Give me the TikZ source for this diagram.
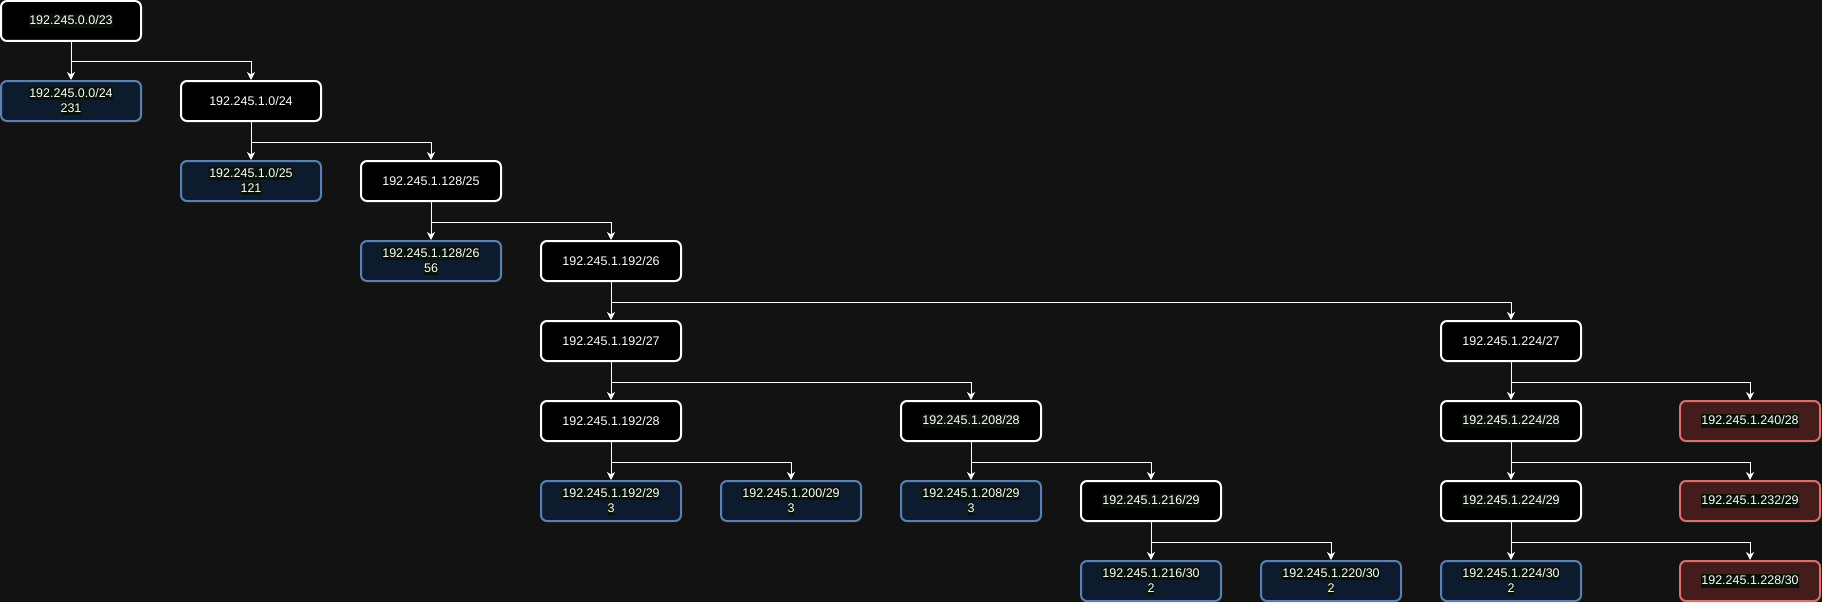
\documentclass[tikz,border=0pt]{standalone}
\usepackage{fontspec}
\setmainfont{Liberation Sans}
\usetikzlibrary{arrows.meta}
\definecolor{bgc}{HTML}{121212}
\definecolor{bluefill}{HTML}{0D1B2E}
\definecolor{blueline}{HTML}{5B80B4}
\definecolor{redfill}{HTML}{451C1C}
\definecolor{redline}{HTML}{D9706A}
\definecolor{txtbg}{HTML}{081208}
\newcommand{\hlt}[1]{{\setlength{\fboxsep}{0pt}\colorbox{txtbg}{\rule[-3.2pt]{0pt}{13.4pt}#1}}}
\begin{document}
\begin{tikzpicture}[x=1pt,y=-1pt,
  box/.style={draw=white,fill=black,line width=2pt,rounded corners=6pt,
    minimum width=140pt,minimum height=40pt,inner sep=0pt,text=white,
    align=center,font=\fontsize{12.5}{15}\selectfont},
  freebox/.style={box,draw=blueline,fill=bluefill},
  usedbox/.style={box,draw=redline,fill=redfill},
  link/.style={draw=white,line width=1pt,-{Stealth[length=8pt,width=8pt,inset=2.5pt]}}]
\fill[bgc] (0,0) rectangle (1822,602);
\useasboundingbox (0,0) rectangle (1822,602);
% nodes
\node[box] (n0) at (71,21) {\hlt{192.245.0.0/23}};
\node[freebox] (a) at (71,101) {\hlt{192.245.0.0/24}\\\hlt{231}};
\node[box] (b) at (251,101) {192.245.1.0/24};
\node[freebox] (c) at (251,181) {\hlt{192.245.1.0/25}\\\hlt{121}};
\node[box] (d) at (431,181) {192.245.1.128/25};
\node[freebox] (e) at (431,261) {\hlt{192.245.1.128/26}\\\hlt{56}};
\node[box] (f) at (611,261) {192.245.1.192/26};
\node[box] (g) at (611,341) {192.245.1.192/27};
\node[box] (h) at (1511,341) {192.245.1.224/27};
\node[box] (i) at (611,421) {192.245.1.192/28};
\node[box] (j) at (971,421) {\hlt{192.245.1.208/28}};
\node[box] (k) at (1511,421) {\hlt{192.245.1.224/28}};
\node[usedbox] (l) at (1750,421) {\hlt{192.245.1.240/28}};
\node[freebox] (m) at (611,501) {\hlt{192.245.1.192/29}\\\hlt{3}};
\node[freebox] (n) at (791,501) {\hlt{192.245.1.200/29}\\\hlt{3}};
\node[freebox] (o) at (971,501) {\hlt{192.245.1.208/29}\\\hlt{3}};
\node[box] (p) at (1151,501) {\hlt{192.245.1.216/29}};
\node[box] (q) at (1511,501) {\hlt{192.245.1.224/29}};
\node[usedbox] (r) at (1750,501) {\hlt{192.245.1.232/29}};
\node[freebox] (s) at (1151,581) {\hlt{192.245.1.216/30}\\\hlt{2}};
\node[freebox] (t) at (1331,581) {\hlt{192.245.1.220/30}\\\hlt{2}};
\node[freebox] (u) at (1511,581) {\hlt{192.245.1.224/30}\\\hlt{2}};
\node[usedbox] (v) at (1750,581) {\hlt{192.245.1.228/30}};
% connectors
\foreach \p/\x/\y in {n0/a/b, b/c/d, d/e/f, f/g/h, g/i/j, h/k/l, i/m/n, j/o/p, k/q/r, p/s/t, q/u/v}{
  \draw[link] (\p.south) -- (\x.north);
  \draw[link] (\p.south) -- ++(0,20) -| (\y.north);
}
\end{tikzpicture}
\end{document}
